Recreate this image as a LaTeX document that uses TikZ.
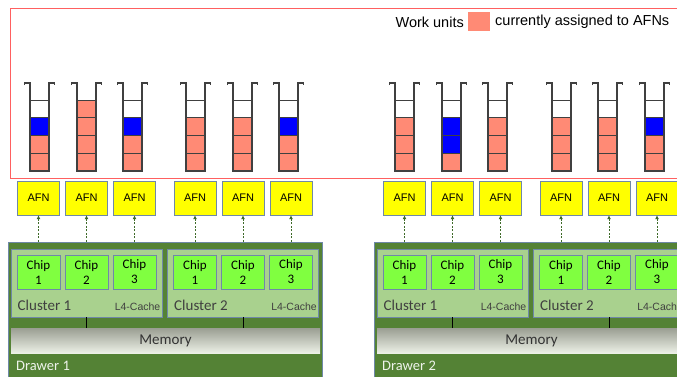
\documentclass[tikz,border=0pt]{standalone}
\usepackage{fontspec}
\setmainfont{Liberation Sans}
\newfontfamily\calibri{Carlito}
\usetikzlibrary{arrows.meta}

\definecolor{workunit}{HTML}{FF8A75}
\definecolor{afnyellow}{HTML}{FFFF00}
\definecolor{boxedge}{HTML}{6F88A8}
\definecolor{drawergreen}{HTML}{548235}
\definecolor{clustergreen}{HTML}{A9D18E}
\definecolor{chipgreen}{HTML}{80FF40}
\definecolor{feedgreen}{HTML}{3F6B2A}
\definecolor{framered}{HTML}{FF6060}
\definecolor{memtop}{HTML}{9A9E92}
\definecolor{membottom}{HTML}{ECF0E6}

\tikzset{
  afn/.style={draw=boxedge, fill=afnyellow, minimum width=42pt, minimum height=34pt, inner sep=0pt, font=\fontsize{11}{12}\selectfont},
  chip/.style={draw=boxedge, line width=0.8pt, fill=chipgreen, minimum width=43pt, minimum height=34pt, inner sep=0pt, align=center, font=\calibri\fontsize{13}{15}\selectfont},
  cluster/.style={draw=boxedge, line width=0.8pt, fill=clustergreen, minimum width=151pt, minimum height=68pt, inner sep=0pt},
  drawer/.style={draw=boxedge, line width=0.8pt, fill=drawergreen, minimum width=314pt, minimum height=150pt, inner sep=0pt},
  memory/.style={top color=memtop, bottom color=membottom, minimum width=309pt, minimum height=25pt, inner sep=0pt, font=\calibri\fontsize{15}{16}\selectfont, text=black!80},
  feed/.style={-{Latex[length=4pt,width=4pt]}, feedgreen, dash pattern=on 2pt off 1.5pt, line width=0.9pt},
  wall/.style={line width=1.2pt, black!75},
  label/.style={inner sep=0pt},
}

% one queue of four work units, colours from bottom to top
\newcommand\workqueue[5]{%
  \foreach \col [count=\i from 0] in {#2,#3,#4,#5}
    \draw[black!75, line width=0.8pt, fill=\col] (#1-9.5,171-17.75*\i) rectangle ++(19,-17.75);
  \draw[wall] (#1-15,85) -- (#1-15,83) -- (#1-9.5,83) -- (#1-9.5,171) -- (#1+9.5,171) -- (#1+9.5,83) -- (#1+15,83) -- (#1+15,85);
}

\begin{document}
\begin{tikzpicture}[x=1pt, y=-1pt]
  \useasboundingbox (0,0) rectangle (677,376);
  \clip (0,0) rectangle (677,376);

  % work units
  \draw[framered, line width=1pt] (10,8) rectangle (700,178);
  \node[label, anchor=east, font=\fontsize{14.5}{16}\selectfont] (legendleft) at (464,22) {Work units};
  \node[fill=workunit, minimum width=22pt, minimum height=19pt, inner sep=0pt] (legendkey) at (479,21.5) {};
  \node[label, anchor=west, font=\fontsize{14.5}{16}\selectfont] (legendright) at (495,22) {currently assigned to AFNs};

  \foreach \qx/\qa/\qb/\qc/\qd in {
      39.5/workunit/workunit/blue/white, 86.5/workunit/workunit/workunit/workunit,
      132.5/workunit/workunit/blue/white, 195.5/workunit/workunit/workunit/white,
      242.5/workunit/workunit/workunit/white, 288.5/workunit/workunit/blue/white,
      404.5/workunit/workunit/workunit/white, 451.5/workunit/blue/blue/white,
      497.5/workunit/workunit/workunit/white, 561.5/workunit/workunit/workunit/white,
      607.5/workunit/workunit/workunit/white, 654.5/workunit/workunit/blue/white}
    \workqueue{\qx}{\qa}{\qb}{\qc}{\qd};

  % drawers
  \foreach \d/\dx in {1/0, 2/366} {
    \node[drawer] (drawer\d) at (\dx+165,317) {};
    \node[memory] (memory\d) at (\dx+165.5,340.5) {Memory};
    \node[label, anchor=west, text=white!90!drawergreen, font=\calibri\fontsize{14.5}{16}\selectfont] (drawerlabel\d) at (\dx+16,366) {Drawer \d};
    \foreach \c/\cx in {1/86.5, 2/243} {
      \node[cluster] (cluster\d-\c) at (\dx+\cx,283) {};
      \node[label, anchor=west, text=black!75, font=\calibri\fontsize{15}{16}\selectfont] (clusterlabel\d-\c) at (\dx+\cx-69,305) {Cluster \c};
      \node[label, anchor=east, text=black!75, font=\fontsize{10.5}{12}\selectfont] (cache\d-\c) at (\dx+\cx+74,307) {L4-Cache};
      \draw[black, line width=0.8pt] (cluster\d-\c.south) -- (cluster\d-\c.south |- memory\d.north);
      \foreach \k in {1,2,3} {
        \node[chip] (chip\d-\c-\k) at (\dx+\cx+48*\k-96,272) {Chip\\\k};
        \node[afn] (afn\d-\c-\k) at (\dx+\cx+48*\k-96,198) {AFN};
        \draw[feed] (afn\d-\c-\k |- drawer\d.north) -- (afn\d-\c-\k);
      }
    }
  }
\end{tikzpicture}
\end{document}
